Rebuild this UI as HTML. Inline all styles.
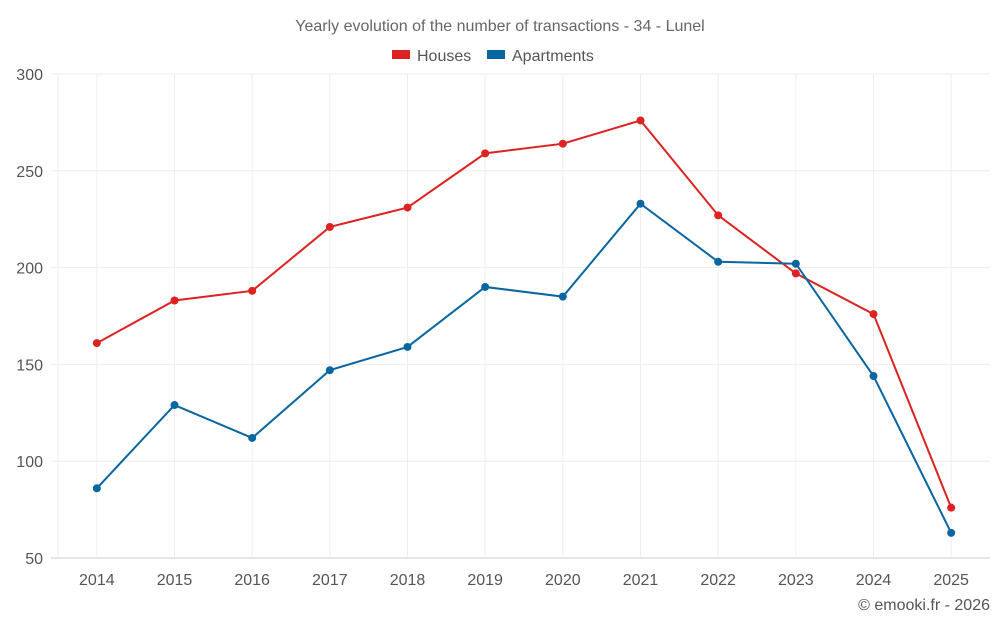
<!DOCTYPE html>
<html><head><meta charset="utf-8"><style>
body{margin:0;background:#fff;font-family:"Liberation Sans",sans-serif;}
svg{display:block}
</style></head><body>
<svg id="chart" width="1000" height="625">
<text x="500" y="31" text-anchor="middle" font-size="16" fill="#666">Yearly evolution of the number of transactions - 34 - Lunel</text>
<g>
<g><rect x="392" y="50" width="18" height="9" fill="#dd2222"/><text x="417" y="61" font-size="16" fill="#555">Houses</text></g>
<g><rect x="487" y="50" width="18" height="9" fill="#0a66a0"/><text x="512" y="61" font-size="16" fill="#555">Apartments</text></g>
</g>
<g id="grid"></g><g id="axes"></g><g id="series"></g>
<text x="990" y="610" text-anchor="end" font-size="16" fill="#555">© emooki.fr - 2026</text>
</svg>
<script>
const years=[2014,2015,2016,2017,2018,2019,2020,2021,2022,2023,2024,2025];
const houses=[161,183,188,221,231,259,264,276,227,197,176,76];
const apartments=[86,129,112,147,159,190,185,233,203,202,144,63];
const yTicks=[50,100,150,200,250,300];
const NS="http://www.w3.org/2000/svg";
const x0=58,x1=990,yTop=74,yBot=558;
const step=(x1-x0)/years.length;
const X=i=>x0+step*(i+0.5);
const Y=v=>yBot-(v-50)/(300-50)*(yBot-yTop);
function mk(t,a,p){const e=document.createElementNS(NS,t);for(const k in a)e.setAttribute(k,a[k]);p.appendChild(e);return e;}
const grid=document.getElementById('grid'),axes=document.getElementById('axes'),ser=document.getElementById('series');
yTicks.forEach(v=>{
 const l=mk('line',{x1:51,x2:x1,y1:Y(v),y2:Y(v),stroke:v===50?'#ccc':'#eee'},grid);
 
 
 const t=mk('text',{x:43,y:Y(v)+6,'text-anchor':'end','font-size':16,fill:'#555'},axes);t.textContent=v;
 
 
});
const le=mk('line',{x1:x0,x2:x0,y1:yTop,y2:yBot,stroke:'#eee'},grid);


years.forEach((y,i)=>{
 const l=mk('line',{x1:X(i),x2:X(i),y1:yTop,y2:yBot,stroke:'#eee'},grid);
 
 
 const t=mk('text',{x:X(i),y:585,'text-anchor':'middle','font-size':16,fill:'#555'},axes);t.textContent=y;
 
 
});
function draw(vals,color,name){
 const p=mk('polyline',{points:vals.map((v,i)=>X(i)+','+Y(v)).join(' '),fill:'none',stroke:color,'stroke-width':2},ser);
 
 
 vals.forEach((v,i)=>{
  const c=mk('circle',{cx:X(i),cy:Y(v),r:4,fill:color},ser);
  
  
 });
}
draw(houses,'#dd2222','houses');
draw(apartments,'#0a66a0','apartments');
</script>
</body></html>
